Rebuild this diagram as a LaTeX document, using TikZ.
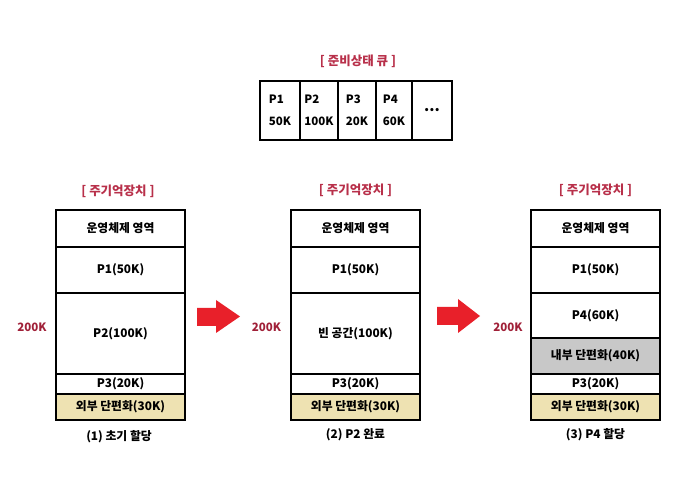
\documentclass[tikz,border=0pt]{standalone}
\usepackage{fontspec}
\setmainfont{Noto Sans CJK KR}
\begin{document}
\begin{tikzpicture}[x=1pt,y=-1pt,
  cell/.style={draw=black, line width=1.8pt, minimum width=129pt, inner sep=0pt, outer sep=0pt, anchor=north west, font=\bfseries\fontsize{11.8}{13}\selectfont},
  qcell/.style={draw=black, line width=1.8pt, minimum height=59pt, inner sep=0pt, outer sep=0pt, anchor=north west, align=left, font=\bfseries\fontsize{11.5}{22}\selectfont},
  ttl/.style={font=\bfseries\fontsize{12.5}{14}\selectfont},
  sz/.style={font=\bfseries\fontsize{11.5}{13}\selectfont},
  captxt/.style={font=\bfseries\fontsize{11.8}{13}\selectfont}
]
\useasboundingbox (0,0) rectangle (697,478);
\definecolor{ttlc}{HTML}{B8304A}
\definecolor{szc}{HTML}{A02038}
\definecolor{extc}{HTML}{EEE2B2}
\definecolor{gryc}{HTML}{C8C8C8}
\definecolor{arrc}{HTML}{E8202A}

% ready queue
\node[ttl, text=ttlc] (qt) at (358,61) {[ 준비상태 큐 ]};
\node[qcell, minimum width=40pt] (q1) at (260,81) {P1\\50K};
\node[qcell, minimum width=38pt] (q2) at (300,81) {P2\\100K};
\node[qcell, minimum width=38pt] (q3) at (338,81) {P3\\20K};
\node[qcell, minimum width=36pt] (q4) at (376,81) {P4\\60K};
\node[qcell, minimum width=40pt, align=center, font=\bfseries\fontsize{15}{16}\selectfont] (q5) at (412,81) {\raisebox{-1pt}{...}};

% block 1
\node[ttl, text=ttlc] (t1) at (118,191) {[ 주기억장치 ]};
\node[cell, minimum height=37pt] (a1) at (56,210) {운영체제 영역};
\node[cell, minimum height=46pt] (a2) at (56,247) {P1(50K)};
\node[cell, minimum height=81pt] (a3) at (56,293) {P2(100K)};
\node[cell, minimum height=20pt] (a4) at (56,374) {P3(20K)};
\node[cell, minimum height=26pt, fill=extc] (a5) at (56,394) {외부 단편화(30K)};
\node[sz, text=szc] (s1) at (32,327) {200K};
\node[captxt] (c1) at (119,437) {(1) 초기 할당};

% block 2
\node[ttl, text=ttlc] (t2) at (355.5,190) {[ 주기억장치 ]};
\node[cell, minimum height=37pt] (b1) at (291,210) {운영체제 영역};
\node[cell, minimum height=46pt] (b2) at (291,247) {P1(50K)};
\node[cell, minimum height=81pt] (b3) at (291,293) {빈 공간(100K)};
\node[cell, minimum height=20pt] (b4) at (291,374) {P3(20K)};
\node[cell, minimum height=26pt, fill=extc] (b5) at (291,394) {외부 단편화(30K)};
\node[sz, text=szc] (s2) at (266.5,327) {200K};
\node[captxt] (c2) at (355.5,435) {(2) P2 완료};

% block 3
\node[ttl, text=ttlc] (t3) at (595.5,190) {[ 주기억장치 ]};
\node[cell, minimum height=37pt] (d1) at (531,210) {운영체제 영역};
\node[cell, minimum height=46pt] (d2) at (531,247) {P1(50K)};
\node[cell, minimum height=45pt] (d3) at (531,293) {P4(60K)};
\node[cell, minimum height=36pt, fill=gryc] (d4) at (531,338) {내부 단편화(40K)};
\node[cell, minimum height=20pt] (d5) at (531,374) {P3(20K)};
\node[cell, minimum height=26pt, fill=extc] (d6) at (531,394) {외부 단편화(30K)};
\node[sz, text=szc] (s3) at (508,327) {200K};
\node[captxt] (c3) at (595.5,435) {(3) P4 할당};

% arrows
\fill[arrc] (197,308) -- (216,308) -- (216,300) -- (240,316.5) -- (216,333) -- (216,326) -- (197,326) -- cycle;
\fill[arrc] (437,307) -- (458,307) -- (458,299) -- (480,316) -- (458,333) -- (458,325) -- (437,325) -- cycle;
\end{tikzpicture}
\end{document}
